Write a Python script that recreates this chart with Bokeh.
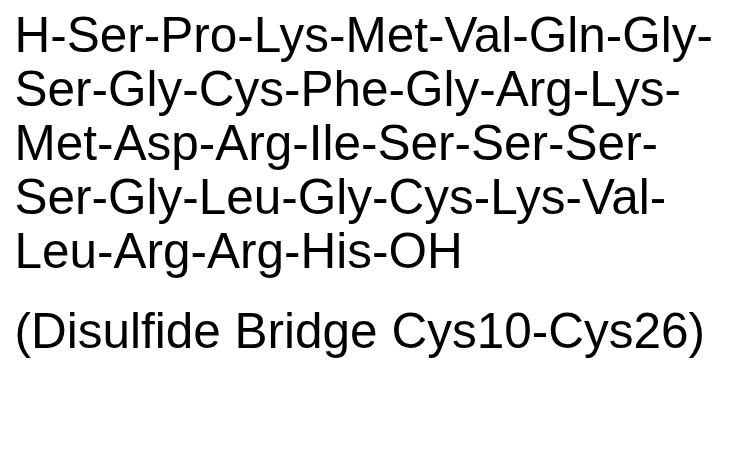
from bokeh.plotting import figure
from bokeh.embed import file_html
from bokeh.resources import INLINE
from bokeh.models import ColumnDataSource, Range1d
from bokeh.core.properties import value

# peptide sequence, one entry per printed line
sequence_lines = [
    "H-Ser-Pro-Lys-Met-Val-Gln-Gly-",
    "Ser-Gly-Cys-Phe-Gly-Arg-Lys-",
    "Met-Asp-Arg-Ile-Ser-Ser-Ser-",
    "Ser-Gly-Leu-Gly-Cys-Lys-Val-",
    "Leu-Arg-Arg-His-OH",
]
note_lines = ["(Disulfide Bridge Cys10-Cys26)"]

W = 717
H = 434

left = 14
first_baseline = 34
line_step = 54
note_gap = 80

xs = [left] * (len(sequence_lines) + len(note_lines))
ys = [first_baseline + i * line_step for i in range(len(sequence_lines))]
ys.append(ys[-1] + note_gap)
texts = sequence_lines + note_lines

src = ColumnDataSource(data=dict(x=xs, y=ys, text=texts))

p = figure(width=W, height=H, output_backend="svg", toolbar_location=None,
           tools=[], x_range=Range1d(0, W), y_range=Range1d(H, 0),
           min_border=0)
p.axis.visible = False
p.grid.visible = False
p.outline_line_color = None
p.background_fill_color = "white"
p.border_fill_color = "white"

p.text(x="x", y="y", text="text", source=src,
       text_font=value("Liberation Sans"), text_font_size="49.5px",
       text_color="black", text_baseline="alphabetic", text_align="left")

open("out.html", "w").write(file_html(p, INLINE))
